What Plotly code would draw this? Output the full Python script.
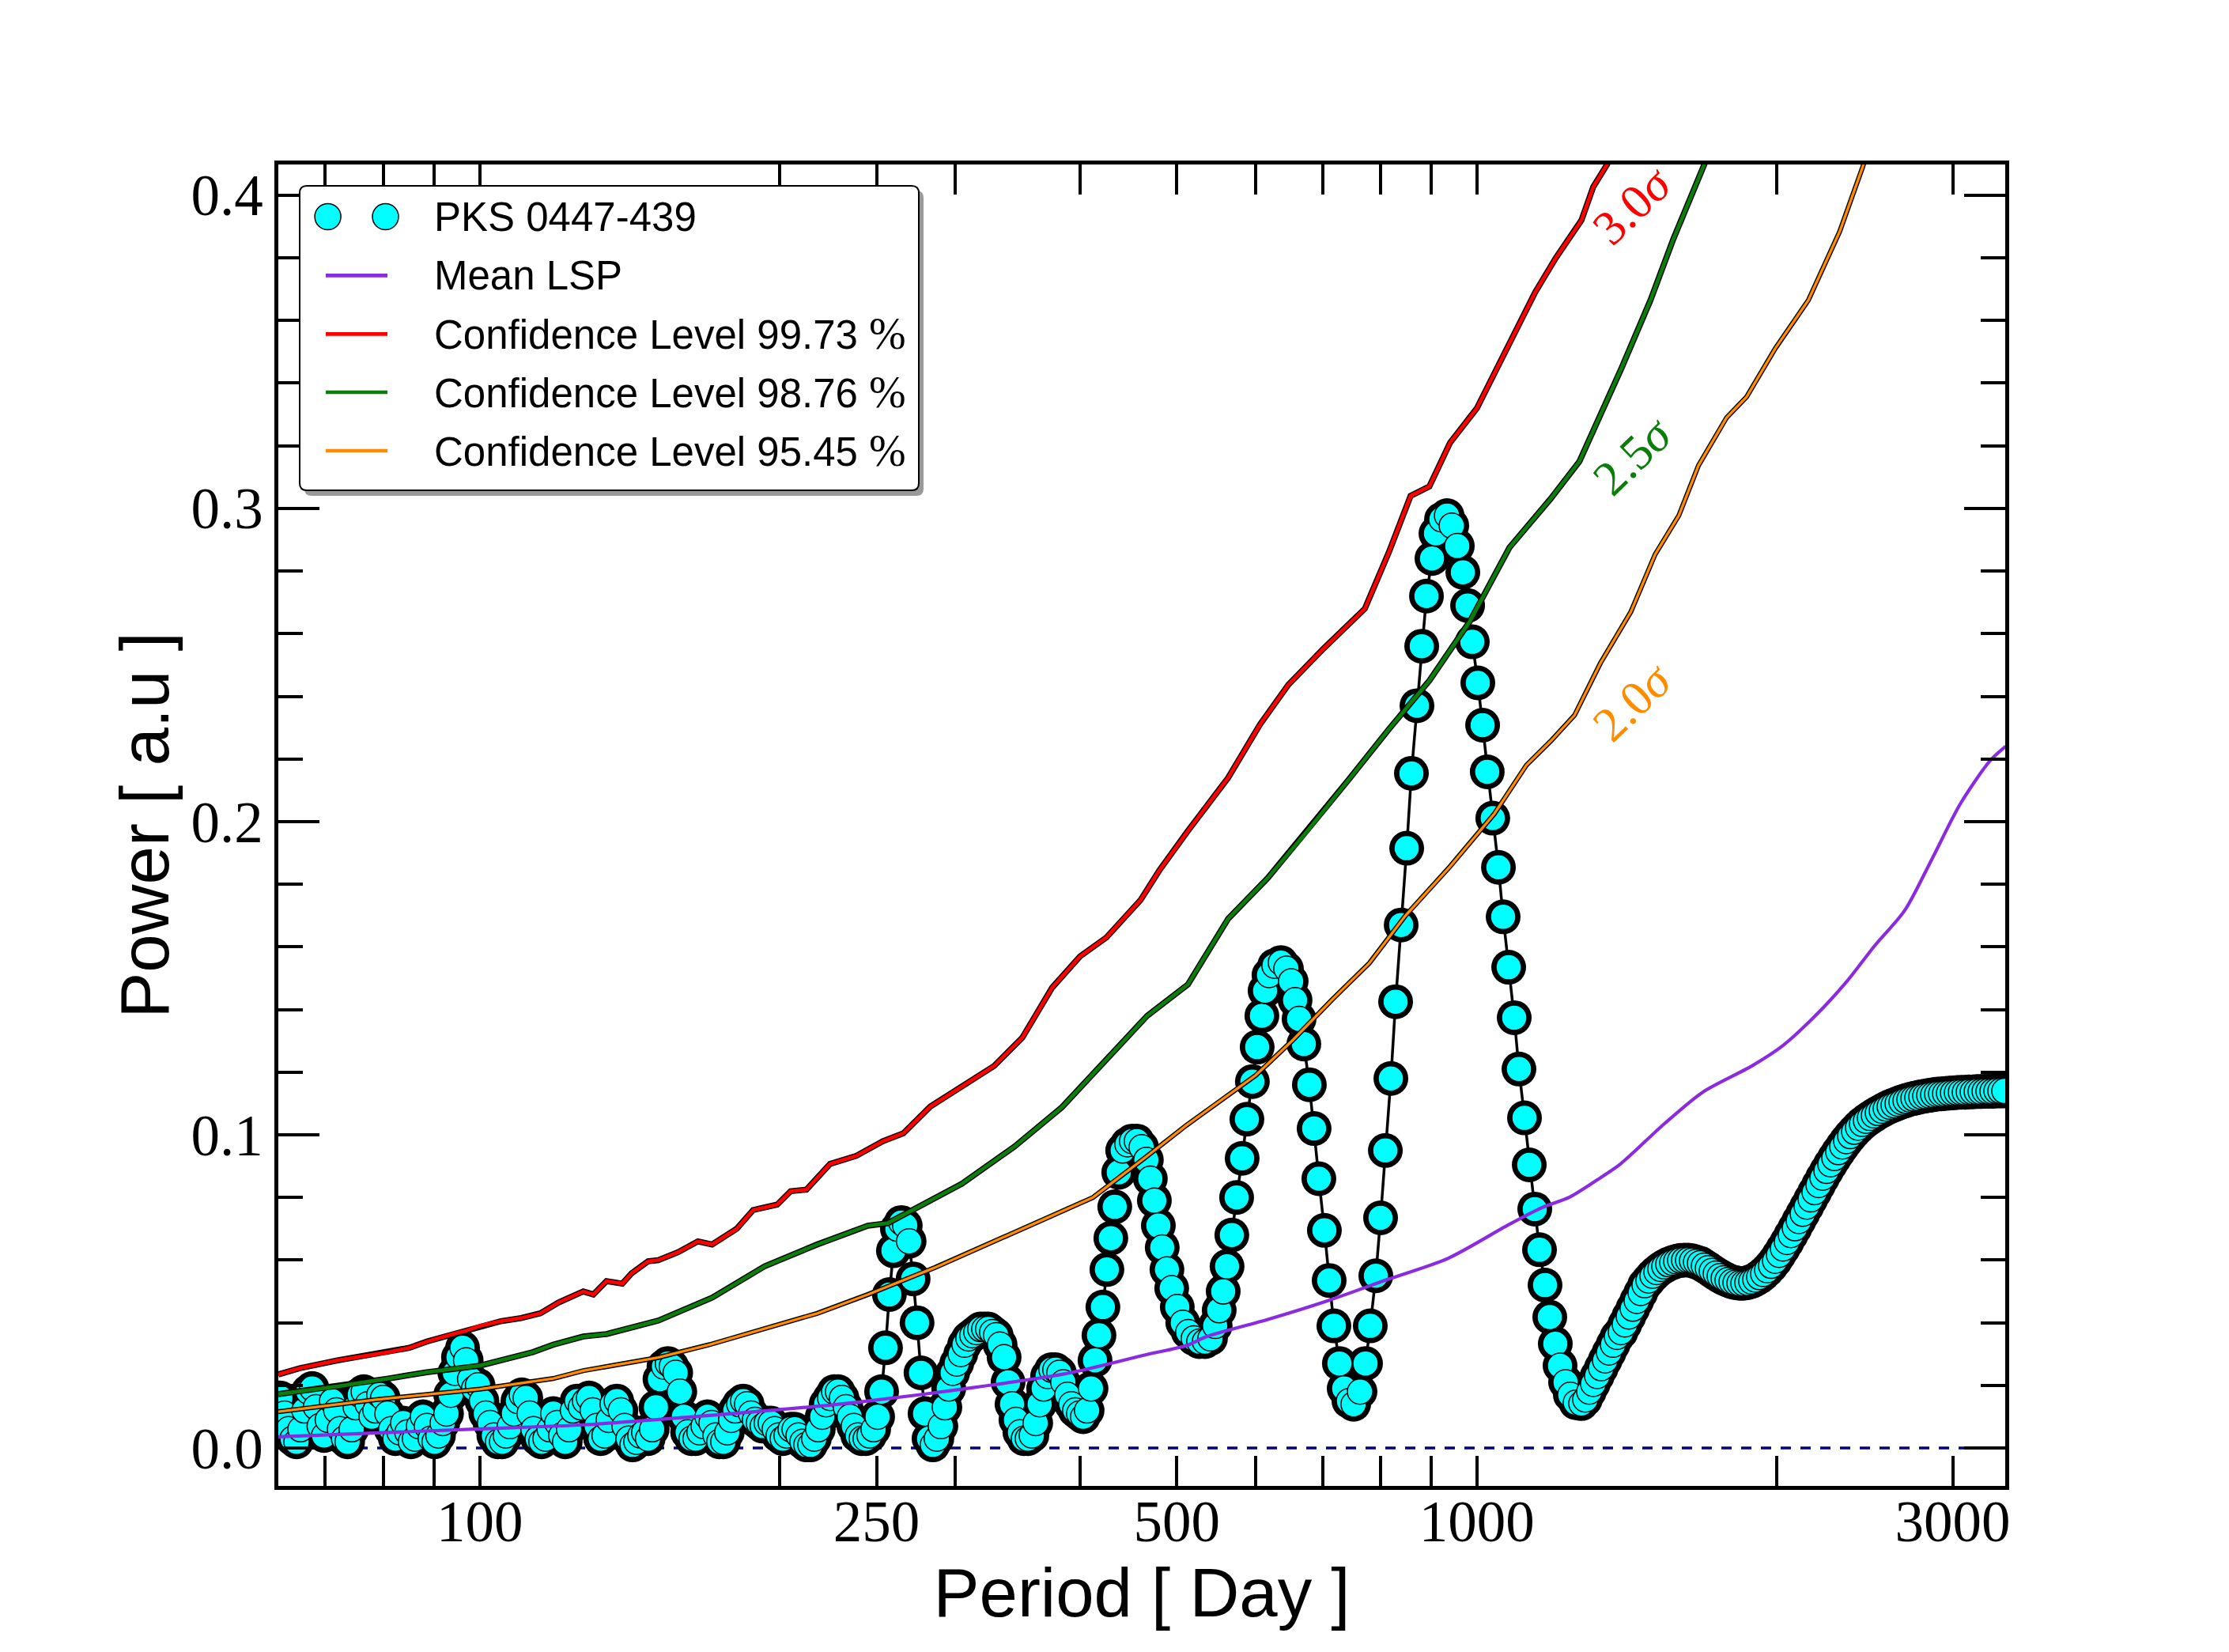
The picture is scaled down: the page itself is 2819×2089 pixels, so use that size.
import math
import plotly.graph_objects as go

# ---------------- data ----------------
# Lomb-Scargle periodogram of PKS 0447-439, split into consecutive pieces
lsp_period_a = [63.1, 63.7, 64.3, 64.9, 65.5, 66.1, 66.7, 67.3, 67.9, 68.5,
                69.1, 69.8, 70.4, 71.1, 71.8, 72.4, 73.1, 73.7, 74.4, 75.1,
                75.8, 76.5, 77.2, 77.9, 78.6, 79.3, 80.0, 80.8, 81.5, 82.3,
                83.1, 83.8, 84.6, 85.3, 86.1, 86.9, 87.7, 88.5, 89.3, 90.1,
                90.9, 91.8, 92.6, 93.5, 94.4, 95.2, 96.1, 96.9, 97.8, 98.7,
                99.6, 100.5, 101.4, 102.4, 103.3, 104.3, 105.3, 106.2, 107.2, 108.2,
                109.2, 110.2, 111.2, 112.2, 113.2, 114.3, 115.3, 116.4, 117.5, 118.5,
                119.6, 120.7, 121.8, 122.9, 124.0, 125.2, 126.3, 127.5, 128.7, 129.8,
                131.0, 132.2, 133.4, 134.7, 135.9, 137.2, 138.5, 139.7, 141.0, 142.3,
                143.6, 144.9, 146.2, 147.5, 148.9, 150.2, 151.6, 153.0, 154.4, 155.8,
                157.2, 158.7, 160.2, 161.6, 163.1, 164.6, 166.1, 167.7, 169.2, 170.8,
                172.4, 173.9, 175.5, 177.1, 178.7, 180.4, 182.1, 183.7, 185.4, 187.1,
                188.8, 190.5, 192.2, 194.0, 195.8, 197.6, 199.4, 201.3, 203.1, 205.0,
                206.9, 208.8, 210.7, 212.6, 214.6, 216.5, 218.5, 220.5, 222.5, 224.6,
                226.7, 228.7, 230.8, 232.9, 235.0, 237.2, 239.4, 241.6, 243.8, 246.0,
                248.3, 250.6]
lsp_power_a = [0.016, 0.011, 0.006, 0.003, 0.002, 0.006, 0.012, 0.018, 0.019, 0.013,
               0.007, 0.004, 0.009, 0.015, 0.012, 0.006, 0.003, 0.002, 0.006, 0.013,
               0.017, 0.018, 0.014, 0.010, 0.012, 0.017, 0.016, 0.011, 0.006, 0.003,
               0.005, 0.008, 0.005, 0.002, 0.003, 0.007, 0.010, 0.007, 0.003, 0.002,
               0.004, 0.008, 0.011, 0.017, 0.024, 0.029, 0.032, 0.028, 0.022, 0.019,
               0.020, 0.015, 0.011, 0.008, 0.004, 0.002, 0.002, 0.004, 0.007, 0.011,
               0.015, 0.017, 0.016, 0.011, 0.006, 0.003, 0.002, 0.003, 0.006, 0.011,
               0.008, 0.004, 0.002, 0.006, 0.012, 0.015, 0.013, 0.015, 0.016, 0.012,
               0.007, 0.003, 0.004, 0.009, 0.014, 0.015, 0.012, 0.007, 0.003, 0.001,
               0.002, 0.004, 0.005, 0.003, 0.006, 0.013, 0.022, 0.026, 0.027, 0.026,
               0.024, 0.018, 0.010, 0.005, 0.003, 0.003, 0.005, 0.007, 0.010, 0.008,
               0.004, 0.002, 0.002, 0.005, 0.009, 0.012, 0.014, 0.015, 0.014, 0.011,
               0.009, 0.008, 0.007, 0.008, 0.008, 0.006, 0.004, 0.003, 0.004, 0.006,
               0.006, 0.004, 0.002, 0.001, 0.001, 0.003, 0.006, 0.010, 0.014, 0.016,
               0.018, 0.018, 0.016, 0.013, 0.010, 0.007, 0.004, 0.003, 0.003, 0.004,
               0.006, 0.010]

lsp_period_b = [252.9, 255.2, 257.5, 259.9, 262.3, 264.7, 267.1, 269.5, 272.0, 274.5,
                277.0, 279.6, 282.2, 284.7, 287.3, 290.0, 292.7, 295.3, 298.0, 300.8,
                303.6, 306.3, 309.1, 311.9, 314.8, 317.7, 320.6, 323.5, 326.5, 329.5,
                332.5, 335.6, 338.7, 341.8, 344.9, 348.1, 351.3, 354.5, 357.8, 361.0,
                364.3, 367.7, 371.1, 374.4, 377.8, 381.3, 384.8, 388.4, 392.0, 395.5,
                399.1, 402.8, 406.5, 410.2, 414.0, 417.8, 421.6, 425.5, 429.4, 433.3,
                437.3, 441.3]
lsp_power_b = [0.018, 0.032, 0.049, 0.063, 0.070, 0.072, 0.071, 0.066, 0.054, 0.040,
               0.024, 0.011, 0.003, 0.001, 0.003, 0.007, 0.013, 0.019, 0.024, 0.027,
               0.030, 0.033, 0.035, 0.036, 0.037, 0.038, 0.038, 0.038, 0.037, 0.036,
               0.033, 0.029, 0.021, 0.014, 0.009, 0.005, 0.003, 0.003, 0.004, 0.008,
               0.014, 0.019, 0.023, 0.025, 0.025, 0.024, 0.021, 0.017, 0.014, 0.012,
               0.011, 0.010, 0.012, 0.019, 0.028, 0.036, 0.045, 0.057, 0.067, 0.077,
               0.088, 0.095]

lsp_period_c = [446.2, 451.0, 456.0, 461.1, 466.1, 470.4, 474.8, 479.2, 483.5, 488.8,
                494.2, 500.6, 507.0, 513.5, 520.1, 526.8, 533.6, 540.5, 546.4, 551.5,
                556.6, 561.6, 567.8, 574.1, 581.5, 587.9, 595.4, 602.0, 608.6, 613.1,
                618.7, 626.7, 635.9, 644.1, 651.2, 657.1, 663.2, 670.5, 679.1, 686.6,
                694.2, 703.1, 710.9, 718.7, 727.9, 736.0, 744.1, 752.2, 763.4, 773.2,
                781.7, 791.8, 800.5, 809.4, 819.8, 828.8, 839.5, 850.3, 859.6, 870.7,
                880.3, 890.0, 901.4, 909.7, 921.4, 933.3, 943.6, 955.7, 968.0, 978.7,
                989.4, 1002.1, 1013.2, 1024.1, 1037.2, 1050.9, 1062.4, 1076.1, 1089.9, 1101.9,
                1116.1, 1128.4, 1142.9, 1155.5, 1170.3, 1183.2, 1198.4, 1211.6, 1227.2, 1240.7,
                1256.7, 1272.8]
lsp_power_c = [0.097, 0.098, 0.098, 0.096, 0.092, 0.086, 0.079, 0.071, 0.064, 0.057,
               0.051, 0.045, 0.040, 0.037, 0.035, 0.034, 0.034, 0.035, 0.039, 0.044,
               0.050, 0.058, 0.068, 0.080, 0.0925, 0.105, 0.117, 0.128, 0.138, 0.146,
               0.151, 0.154, 0.155, 0.153, 0.149, 0.143, 0.137, 0.129, 0.116, 0.102,
               0.086, 0.0695, 0.0535, 0.039, 0.027, 0.019, 0.015, 0.014, 0.018, 0.027,
               0.039, 0.055, 0.0735, 0.095, 0.118, 0.1425, 0.167, 0.1915, 0.2154, 0.237,
               0.256, 0.272, 0.284, 0.292, 0.2965, 0.2977, 0.2945, 0.288, 0.2796, 0.269,
               0.2574, 0.2443, 0.2308, 0.2159, 0.2011, 0.1854, 0.1696, 0.1535, 0.1374, 0.121,
               0.1054, 0.0904, 0.0763, 0.0633, 0.052, 0.0418, 0.0333, 0.0263, 0.021, 0.017,
               0.0145, 0.0142]

lsp_period_d = [1284.5, 1296.3, 1308.2, 1320.2, 1332.3, 1344.5, 1356.8, 1369.3, 1381.9, 1394.5,
                1407.3, 1420.2, 1433.2, 1446.4, 1459.7, 1473.0, 1486.5, 1500.2, 1514.0, 1527.8,
                1541.8, 1556.0, 1570.3, 1584.6, 1599.1, 1613.8, 1628.6, 1643.6, 1658.7, 1673.9,
                1689.3, 1704.7, 1720.3, 1736.1, 1752.0, 1768.1, 1784.3, 1800.7, 1817.2, 1833.9,
                1850.7, 1867.7, 1884.8, 1902.1, 1919.6, 1937.1, 1954.9, 1972.8, 1990.9, 2009.2,
                2027.6, 2046.2, 2065.0, 2083.9, 2103.0, 2122.3, 2141.8, 2161.4, 2181.2, 2201.3,
                2221.5, 2241.8, 2262.4, 2283.1, 2304.1, 2325.2, 2346.5, 2368.1, 2389.8, 2411.7,
                2433.8, 2456.1, 2478.6, 2501.4, 2524.3, 2547.5, 2570.9, 2594.4, 2618.2, 2642.2,
                2666.5, 2690.9, 2715.6, 2740.5, 2765.6, 2791.0, 2816.6, 2842.4, 2868.5, 2894.8,
                2921.4, 2948.2, 2975.2, 3002.5, 3030.0, 3057.8, 3085.9, 3114.2, 3142.8, 3171.5,
                3200.6, 3230.0, 3259.6, 3289.5, 3319.7, 3350.1, 3380.8]
lsp_power_d = [0.0155, 0.018, 0.0205, 0.023, 0.0255, 0.028, 0.0305, 0.033, 0.0355, 0.037,
               0.0395, 0.042, 0.0445, 0.047, 0.0495, 0.052, 0.0535, 0.055, 0.0562, 0.0572,
               0.058, 0.0587, 0.0592, 0.0596, 0.0599, 0.060, 0.060, 0.0598, 0.0594, 0.059,
               0.0582, 0.0574, 0.0565, 0.0557, 0.0549, 0.0542, 0.0536, 0.0531, 0.0528, 0.0526,
               0.0526, 0.0528, 0.0532, 0.0538, 0.0546, 0.0556, 0.0568, 0.0582, 0.0598, 0.0617,
               0.0637, 0.0658, 0.068, 0.0702, 0.0725, 0.0748, 0.0771, 0.0794, 0.0817, 0.084,
               0.0863, 0.0885, 0.0906, 0.0926, 0.0945, 0.0963, 0.098, 0.0996, 0.101, 0.1023,
               0.1035, 0.1045, 0.1054, 0.1062, 0.107, 0.1077, 0.1084, 0.109, 0.1095, 0.110,
               0.1105, 0.1109, 0.1113, 0.1116, 0.1119, 0.1122, 0.1124, 0.1126, 0.1128, 0.113,
               0.1131, 0.1132, 0.1133, 0.1134, 0.1135, 0.1136, 0.1136, 0.1137, 0.1137, 0.1138,
               0.1138, 0.1139, 0.1139, 0.1139, 0.114, 0.114, 0.114]

# Mean LSP of simulated light curves
mean_period = [62.8, 100, 127, 170, 224.5, 245, 304.5, 388, 466, 511,
               536, 616, 708, 815, 936, 1076, 1163, 1237, 1333, 1393,
               1540, 1684, 1887, 2027, 2200, 2350, 2506, 2685, 2856, 3055,
               3272, 3390]
mean_power = [0.0036, 0.0061, 0.0074, 0.0104, 0.0137, 0.015, 0.0188, 0.0238, 0.0298, 0.0327,
              0.0356, 0.041, 0.047, 0.0539, 0.0606, 0.0713, 0.0768, 0.080, 0.0865, 0.0907,
              0.1034, 0.1136, 0.122, 0.1285, 0.139, 0.149, 0.1604, 0.1716, 0.1877, 0.2058,
              0.2195, 0.224]

# Confidence level 99.73 % (3.0 sigma)
cl3_period = [62.8, 66, 72, 77, 81, 85, 88.5, 94, 97, 100,
              105, 110, 115, 120, 127, 130, 134, 139, 142, 147.5,
              151, 158, 165.5, 171, 181, 188, 198.7, 205, 212.6, 224.5,
              238.6, 253.8, 266, 283, 300, 328, 350, 375, 400, 425,
              460, 480, 513, 563, 606, 647, 702, 772, 816, 858,
              896, 940, 1000, 1037, 1144, 1200, 1273, 1308, 1350, 1420]
cl3_power = [0.0235, 0.0255, 0.028, 0.0295, 0.0306, 0.032, 0.034, 0.0364, 0.0375, 0.039,
             0.0405, 0.0415, 0.043, 0.0465, 0.050, 0.049, 0.0533, 0.0525, 0.0558, 0.0596,
             0.060, 0.0625, 0.066, 0.065, 0.070, 0.076, 0.0777, 0.082, 0.0825, 0.0907,
             0.0933, 0.098, 0.1005, 0.109, 0.114, 0.122, 0.131, 0.147, 0.157, 0.163,
             0.175, 0.1843, 0.197, 0.214, 0.231, 0.2437, 0.2553, 0.268, 0.286, 0.304,
             0.307, 0.321, 0.332, 0.342, 0.369, 0.380, 0.392, 0.4026, 0.4097, 0.425]

# Confidence level 98.76 % (2.5 sigma)
cl25_period = [62.8, 72, 81, 88.5, 100, 113, 118.5, 127, 134, 151,
               171, 193, 218, 245, 256.6, 304.5, 343.6, 383.5, 425, 467,
               513, 563, 617, 676, 742, 816, 896, 984, 1078, 1185,
               1267, 1396, 1493, 1574, 1690, 1780]
cl25_power = [0.0172, 0.0197, 0.0222, 0.0242, 0.0263, 0.0306, 0.033, 0.0356, 0.0364, 0.0407,
              0.048, 0.058, 0.065, 0.071, 0.0718, 0.0844, 0.0962, 0.1088, 0.124, 0.138,
              0.148, 0.169, 0.182, 0.197, 0.213, 0.2295, 0.245, 0.264, 0.2875, 0.303,
              0.315, 0.3447, 0.3665, 0.386, 0.4097, 0.43]

# Confidence level 95.45 % (2.0 sigma)
cl2_period = [62.8, 78.4, 100, 118.5, 127, 151, 170, 193, 218, 245,
              286, 366, 412, 466, 511, 600, 654, 716, 780, 848,
              940, 1041, 1121, 1185, 1253, 1330, 1427, 1509, 1594, 1668,
              1780, 1864, 1991, 2150, 2311, 2437, 2550]
cl2_power = [0.0116, 0.0154, 0.0188, 0.0222, 0.0247, 0.0289, 0.033, 0.038, 0.043, 0.049,
             0.0576, 0.0727, 0.080, 0.093, 0.103, 0.119, 0.1303, 0.1432, 0.1548, 0.170,
             0.1857, 0.2025, 0.218, 0.2256, 0.234, 0.2506, 0.267, 0.2853, 0.2977, 0.3137,
             0.329, 0.3356, 0.351, 0.3665, 0.3884, 0.409, 0.43]

zero_period = [62.8, 3390]
zero_power = [0.0, 0.0]

x_tick_vals = [70, 80, 90, 100, 200, 250, 300, 400, 500, 600, 700, 800, 900, 1000, 2000, 3000]
x_tick_text = ['', '', '', '100', '', '250', '', '', '500', '', '', '', '', '1000', '', '3000']

sigma_labels = ['3.0<i>σ</i>', '2.5<i>σ</i>', '2.0<i>σ</i>']
sigma_label_period = [1433, 1433, 1433]
sigma_label_power = [0.3968, 0.317, 0.2384]

legend_labels = ['PKS 0447-439', 'Mean LSP',
                 'Confidence Level 99.73 ', 'Confidence Level 98.76 ', 'Confidence Level 95.45 ']

for a, b in [(lsp_period_a, lsp_power_a), (lsp_period_b, lsp_power_b),
             (lsp_period_c, lsp_power_c), (lsp_period_d, lsp_power_d),
             (mean_period, mean_power), (cl3_period, cl3_power),
             (cl25_period, cl25_power), (cl2_period, cl2_power)]:
    assert len(a) == len(b), (len(a), len(b))

lsp_period = lsp_period_a + lsp_period_b + lsp_period_c + lsp_period_d
lsp_power = lsp_power_a + lsp_power_b + lsp_power_c + lsp_power_d

# ---------------- styles ----------------
CYAN = '#00FFFF'
PURPLE = '#8A2BE2'
RED = '#FF0000'
GREEN = '#0A7D0A'
ORANGE = '#FF8C00'
NAVY = '#00008B'
SANS = 'Liberation Sans'
SERIF = 'Liberation Serif'

W, H = 2819, 2089
L, R, T, B = 352, 283, 208, 210
PW, PH = W - L - R, H - T - B


def px(x):
    return (x - L) / PW


def py(y):
    return (H - B - y) / PH


fig = go.Figure()

fig.add_trace(go.Scatter(x=zero_period, y=zero_power, mode='lines',
                         line=dict(color=NAVY, width=3.5, dash='13px,12px'),
                         hoverinfo='skip'))
# black halo + connecting line
fig.add_trace(go.Scatter(x=lsp_period, y=lsp_power, mode='lines+markers',
                         line=dict(color='black', width=3.5),
                         marker=dict(size=44, color='black', line=dict(width=0))))
# cyan markers
fig.add_trace(go.Scatter(x=lsp_period, y=lsp_power, mode='markers',
                         marker=dict(size=32, color=CYAN, line=dict(color='black', width=1.5))))
# mean LSP
fig.add_trace(go.Scatter(x=mean_period, y=mean_power, mode='lines',
                         line=dict(color=PURPLE, width=4.2, shape='spline', smoothing=0.8)))
# confidence levels with dark outline
for per, pw, col, w in [(cl3_period, cl3_power, RED, 4.8),
                        (cl25_period, cl25_power, GREEN, 4.8),
                        (cl2_period, cl2_power, ORANGE, 3.4)]:
    fig.add_trace(go.Scatter(x=per, y=pw, mode='lines', line=dict(color='black', width=w + 2.8)))
    fig.add_trace(go.Scatter(x=per, y=pw, mode='lines', line=dict(color=col, width=w)))

fig.update_layout(
    width=W, height=H,
    margin=dict(l=L, r=R, t=T, b=B, autoexpand=False),
    paper_bgcolor='white', plot_bgcolor='white',
    showlegend=False,
)

fig.update_xaxes(
    type='log', range=[math.log10(62.8), math.log10(3387)],
    showline=True, linecolor='black', linewidth=4.5, mirror='allticks',
    ticks='inside', ticklen=38, tickwidth=3.5, tickcolor='black',
    tickvals=x_tick_vals, ticktext=x_tick_text, ticklabelstandoff=-22,
    tickfont=dict(family=SERIF, size=73, color='black'),
    showgrid=False, zeroline=False, automargin=False,
    title=dict(text='Period [ Day ]', font=dict(family=SANS, size=87, color='black'), standoff=12),
)
fig.update_yaxes(
    range=[-0.0121, 0.4098], tick0=0, dtick=0.1, tickformat='.1f',
    showline=True, linecolor='black', linewidth=4.5, mirror='allticks',
    ticks='inside', ticklen=52, tickwidth=3.5, tickcolor='black',
    minor=dict(dtick=0.02, ticklen=31, tickwidth=3.5, tickcolor='black', ticks='inside', showgrid=False),
    tickfont=dict(family=SERIF, size=73, color='black'),
    showgrid=False, zeroline=False, automargin=False,
    title=dict(text='Power [ a.u ]', font=dict(family=SANS, size=87, color='black'), standoff=0),
)

# sigma labels
for txt, p, v, col in zip(sigma_labels, sigma_label_period, sigma_label_power, [RED, GREEN, ORANGE]):
    fig.add_annotation(x=math.log10(p), y=v, xref='x', yref='y', text=txt, showarrow=False,
                       textangle=-44, font=dict(family=SERIF, size=62, color=col))

# ---------------- hand-drawn legend box ----------------
def rounded(x0, y0, x1, y1, r=9):
    # pixel coords (y down) -> paper path
    X0, X1 = px(x0), px(x1)
    Yt, Yb = py(y0), py(y1)
    rx, ry = r / PW, r / PH
    return (f'M {X0+rx},{Yt} L {X1-rx},{Yt} Q {X1},{Yt} {X1},{Yt-ry} '
            f'L {X1},{Yb+ry} Q {X1},{Yb} {X1-rx},{Yb} L {X0+rx},{Yb} '
            f'Q {X0},{Yb} {X0},{Yb+ry} L {X0},{Yt-ry} Q {X0},{Yt} {X0+rx},{Yt} Z')

shapes = []
shapes.append(dict(type='path', xref='paper', yref='paper', path=rounded(385, 241, 1168, 627),
                   fillcolor='#9a9a9a', line=dict(width=0), layer='above'))
shapes.append(dict(type='path', xref='paper', yref='paper', path=rounded(379, 235, 1162, 620),
                   fillcolor='white', line=dict(color='black', width=2), layer='above'))
row_y = [274, 348.3, 422.3, 496, 570]
for cx in (414.6, 487.5):
    shapes.append(dict(type='circle', xref='paper', yref='paper',
                       xsizemode='pixel', ysizemode='pixel',
                       xanchor=px(cx), yanchor=py(row_y[0]),
                       x0=-16.5, x1=16.5, y0=-16.5, y1=16.5,
                       fillcolor=CYAN, line=dict(color='black', width=1.5), layer='above'))
for yy, col in zip(row_y[1:], [PURPLE, RED, GREEN, ORANGE]):
    shapes.append(dict(type='line', xref='paper', yref='paper',
                       x0=px(412), x1=px(490), y0=py(yy), y1=py(yy),
                       line=dict(color=col, width=4.7), layer='above'))
fig.update_layout(shapes=shapes)

for i, (lab, yy) in enumerate(zip(legend_labels, row_y)):
    txt = lab
    if i >= 2:
        txt = lab + '<span style="font-family:Liberation Serif;font-size:56px">%</span>'
    fig.add_annotation(x=px(547), y=py(yy), xref='paper', yref='paper', text=txt,
                       showarrow=False, xanchor='left', yanchor='middle',
                       font=dict(family=SANS, size=51, color='black'))

fig.write_html('out.html')
